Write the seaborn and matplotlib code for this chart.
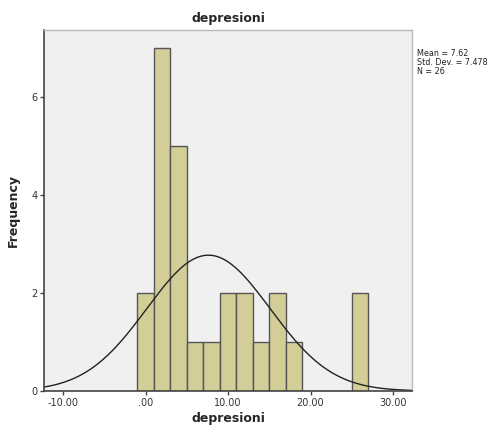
import numpy as np
import pandas as pd
import matplotlib
matplotlib.use('Agg')
import matplotlib.pyplot as plt
import seaborn as sns

# scores (bin width 2, bins centred on even numbers)
scores = [0, 0,
          2, 2, 2, 2, 2, 2, 2,
          4, 4, 4, 4, 4,
          6, 8, 10, 10, 12, 12, 14, 16, 16, 18,
          26, 26]
# summary shown by SPSS next to the chart
mean_val = 7.62
sd_val = 7.478
n_val = 26
bin_edges = np.arange(-1, 29, 2)
x_ticks = [-10, 0, 10, 20, 30]
x_tick_labels = ['-10.00', '.00', '10.00', '20.00', '30.00']
y_ticks = [0, 2, 4, 6]

df = pd.DataFrame({'depresioni': scores})

sns.set_style('white')
plt.rcParams['font.family'] = ['DejaVu Sans']

fig = plt.figure(figsize=(4.91, 4.32), dpi=100)
ax = fig.add_axes([0.09, 0.095, 0.749, 0.835])
ax.set_facecolor('#f0f0f0')

sns.histplot(data=df, x='depresioni', bins=bin_edges, stat='count',
             color='#d3ce97', edgecolor='#555555', linewidth=1.0, alpha=1.0, ax=ax)

# normal curve scaled to counts
xs = np.linspace(-12.3, 32.3, 300)
ys = n_val * 2 * np.exp(-0.5 * ((xs - mean_val) / sd_val) ** 2) / (sd_val * np.sqrt(2 * np.pi))
ax.plot(xs, ys, color='#222222', linewidth=1.0)

ax.set_xlim(-12.3, 32.3)
ax.set_ylim(0, 7.37)
ax.set_xticks(x_ticks)
ax.set_xticklabels(x_tick_labels)
ax.set_yticks(y_ticks)
ax.tick_params(axis='both', which='both', direction='out', length=3, width=1, pad=2,
               color='#444444', labelsize=7, labelcolor='#333333', bottom=True, left=True)

for side in ['left', 'bottom']:
    ax.spines[side].set_color('#444444')
    ax.spines[side].set_linewidth(1.2)
for side in ['top', 'right']:
    ax.spines[side].set_color('#bbbbbb')
    ax.spines[side].set_linewidth(1.0)

ax.set_title('depresioni', fontsize=9, fontweight='bold', pad=6)
ax.set_xlabel('depresioni', fontsize=9, fontweight='bold', labelpad=3)
ax.set_ylabel('Frequency', fontsize=9, fontweight='bold', labelpad=8)

fig.text(0.849, 0.886, f'Mean = {mean_val:.2f}\nStd. Dev. = {sd_val:.3f}\nN = {n_val}',
         fontsize=5.8, va='top', ha='left', color='#222222', linespacing=1.0)

fig.savefig('out.png', dpi=100)
